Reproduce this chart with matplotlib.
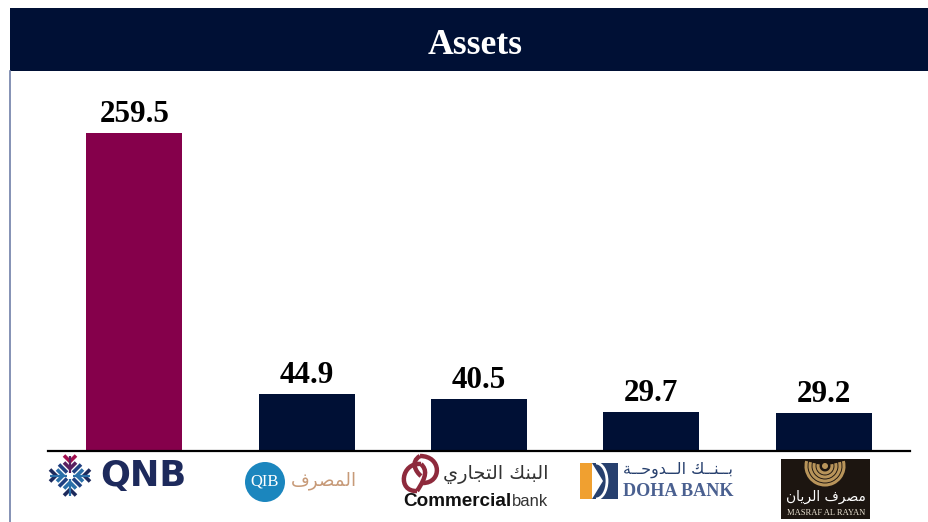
import matplotlib
matplotlib.use("Agg")
import matplotlib.pyplot as plt
from matplotlib.patches import Rectangle, Circle, Arc, Polygon, PathPatch
from matplotlib.path import Path

title = "Assets"
banks = ["QNB", "QIB", "Commercial Bank", "Doha Bank", "Masraf Al Rayan"]
assets = [259.5, 44.9, 40.5, 29.7, 29.2]
bar_colors = ["#85004B", "#001035", "#001035", "#001035", "#001035"]

NAVY = "#001035"
SERIF = "Liberation Serif"
W, H = 929, 522
AXIS_FLOOR = -2.0

fig = plt.figure(figsize=(W / 100, H / 100), dpi=100, facecolor="white")

# main chart
ax = fig.add_axes([48 / W, 1 - 451 / H, (910 - 48) / W, (451 - 71) / H])
ax.bar(range(len(banks)), [v - AXIS_FLOOR for v in assets], bottom=AXIS_FLOOR,
       width=0.557, color=bar_colors)
ax.set_xlim(-0.5, 4.5)
ax.set_ylim(AXIS_FLOOR, 310.5)
ax.set_yticks([])
ax.set_xticks([])
for s in ("top", "left", "right"):
    ax.spines[s].set_visible(False)
ax.spines["bottom"].set_linewidth(1.6)
ax.spines["bottom"].set_color("black")
ax.patch.set_alpha(0)
for i, v in enumerate(assets):
    ax.annotate(f"{v:.1f}", (i, v), xytext=(0, 3.0), textcoords="offset points",
                ha="center", va="bottom", fontsize=22.4, fontweight="bold",
                family=SERIF, color="black")

# page furniture and logo row, in pixel coordinates
ov = fig.add_axes([0, 0, 1, 1], zorder=-1)
ov.set_xlim(0, W)
ov.set_ylim(H, 0)
ov.axis("off")
ov2 = fig.add_axes([0, 0, 1, 1], zorder=5)
ov2.set_xlim(0, W)
ov2.set_ylim(H, 0)
ov2.axis("off")
ov2.patch.set_alpha(0)

ov.plot([10.5, 10.5], [71, H], color="#6F7FA8", lw=1.2)
ov.add_patch(Rectangle((10, 8), W - 10, 63, color=NAVY, lw=0))
ov2.text(475, 45, title, color="white", family=SERIF, fontweight="bold",
         fontsize=25.7, ha="center", va="center")


def shape(codes):
    """Arabic presentation forms, laid out right to left."""
    return "".join(chr(c) for c in reversed(codes))


K = 0x640
AR_QIB = shape([0xFE8D, 0xFEDF, 0xFEE4, 0xFEBC, 0xFEAE, 0xFED1])
AR_CB = shape([0xFE8D, 0xFEDF, 0xFE92, 0xFEE8, 0xFEDA, 0x20,
               0xFE8D, 0xFEDF, 0xFE98, 0xFEA0, 0xFE8E, 0xFEAD, 0xFEF1])
AR_DOHA = shape([0xFE91, K, K, 0xFEE8, K, K, 0xFEDA, 0x20,
                 0xFE8D, 0xFEDF, K, K, 0xFEAA, 0xFEED, 0xFEA3, K, K, 0xFE94])
AR_RAYAN = shape([0xFEE3, 0xFEBC, 0xFEAE, 0xFED1, 0x20,
                  0xFE8D, 0xFEDF, 0xFEAE, 0xFEF3, 0xFE8E, 0xFEE5])


def fit(txt, x0, x1, yc, size=12, **kw):
    """Place text so that it spans x0..x1 at vertical centre yc."""
    t = ov2.text(x0, yc, txt, ha="left", va="center", fontsize=size, **kw)
    w = t.get_window_extent(fig.canvas.get_renderer()).width
    t.set_fontsize(size * (x1 - x0) / w)
    return t


def curve(points, color, lw):
    codes = [Path.MOVETO] + [Path.CURVE4] * (len(points) - 1)
    ov2.add_patch(PathPatch(Path(points, codes), fill=False, edgecolor=color,
                            lw=lw, capstyle="butt"))


# QNB snowflake
cx, cy = 70, 475.5
arms = [((1, 0), (0, -1), "#5A1F60", "#A3104F"),
        ((1, 0), (0, 1), "#2A6FA8", "#1D2A5C"),
        ((0, 1), (1, 0), "#2A6FA8", "#1D2A5C"),
        ((0, 1), (-1, 0), "#2A6FA8", "#1D2A5C")]
for (ux, uy), (vx, vy), inner, outer in arms:
    for r, col in [(7, inner), (14, outer)]:
        pts = [(-6, r + 6), (0, r), (6, r + 6)]
        ov2.plot([cx + ux * a + vx * b for a, b in pts],
                 [cy + uy * a + vy * b for a, b in pts],
                 color=col, lw=2.6, solid_capstyle="butt", solid_joinstyle="miter")
    ov2.plot([cx + vx * 3, cx + vx * 20], [cy + vy * 3, cy + vy * 20],
             color=inner, lw=1.6, solid_capstyle="butt")
for sx in (-1, 1):
    for sy in (-1, 1):
        ov2.plot([cx + sx * 3, cx + sx * 11], [cy + sy * 3, cy + sy * 11],
                 color="#1F3F80", lw=2.6, solid_capstyle="butt")
fit("QNB", 100, 186, 476, family="DejaVu Sans", fontweight="bold", color="#1D2A5C")

# QIB
ov2.add_patch(Circle((265, 482), 20, color="#1B86BE", lw=0))
ov2.text(265, 482, "QIB", color="white", family=SERIF, fontsize=12, ha="center", va="center")
fit(AR_QIB, 291, 357, 481, family="DejaVu Sans", color="#C79A78")

# Commercial Bank
MAROON = "#8E2A3C"
curve([(421, 464), (401, 462), (397, 492), (417, 491)], MAROON, 3.2)
curve([(420, 456), (442, 456), (442, 483), (423, 483)], MAROON, 3.2)
curve([(420, 456), (410, 462), (416, 472), (421, 476)], MAROON, 3.2)
curve([(421, 464), (427, 470), (427, 476), (417, 491)], MAROON, 3.2)
fit(AR_CB, 443, 548, 475, family="DejaVu Sans", color="#333333")
fit("Commercial", 403, 510, 502, family="Liberation Sans", fontweight="bold", color="#111111")
fit("bank", 512, 548, 502, family=["Liberation Sans Narrow", "Liberation Sans"], color="#333333")

# Doha Bank
ov2.add_patch(Rectangle((580, 463), 12, 36, color="#F0A030", lw=0))
ov2.add_patch(Polygon([(592, 463), (618, 463), (618, 499), (592, 499), (603, 481)],
                      closed=True, color="#27406E", lw=0))
ov2.add_patch(Arc((596, 481), 22, 36, theta1=-90, theta2=90, color="white", lw=2))
fit(AR_DOHA, 623, 733, 470, family="DejaVu Sans", color="#27406E")
fit("DOHA BANK", 623, 733, 491, family=SERIF, fontweight="bold", color="#4A6090")

# Masraf Al Rayan
ov2.add_patch(Rectangle((781, 459), 89, 60, color="#1C1510", lw=0))
for r in (19, 15, 11, 7):
    ov2.add_patch(Arc((825, 466), r * 2, r * 2, theta1=-15, theta2=195,
                      color="#B8945A", lw=2.2))
ov2.add_patch(Circle((825, 466), 3, color="#B8945A", lw=0))
fit(AR_RAYAN, 786, 866, 497, family="DejaVu Sans", color="white")
fit("MASRAF AL RAYAN", 787, 865, 513, family=SERIF, color="#E8E0D0")

fig.savefig("out.png", dpi=100)
